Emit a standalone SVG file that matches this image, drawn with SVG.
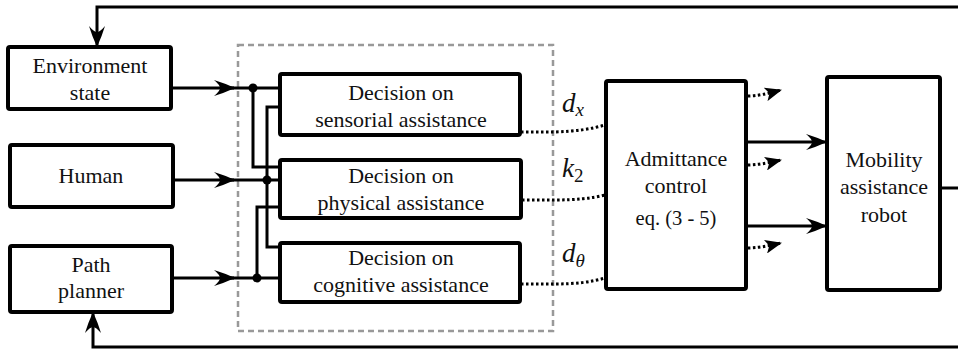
<svg xmlns="http://www.w3.org/2000/svg" width="958" height="353" viewBox="0 0 958 353">
<style>
.box{fill:#fff;stroke:#000;stroke-width:4}
.ln{fill:none;stroke:#000;stroke-width:3}
.dot{fill:none;stroke:#000;stroke-width:3;stroke-dasharray:2.5 2.5}
.dash{fill:none;stroke:#999;stroke-width:2.5;stroke-dasharray:6 4}
text{font-family:"Liberation Serif","Times New Roman",serif;font-size:22px;fill:#111}
.t{text-anchor:middle}
.m{font-style:italic;font-size:27px}
</style>
<defs>
<marker id="barb" markerUnits="userSpaceOnUse" markerWidth="22" markerHeight="18" viewBox="0 0 22 18" refX="20" refY="9" orient="auto">
<path d="M21,9 Q10,4 0,1 Q6,6 6,9 Q6,12 0,17 Q10,14 21,9 Z" fill="#000"/>
</marker>
<marker id="tri" markerUnits="userSpaceOnUse" markerWidth="18" markerHeight="14" viewBox="0 0 18 14" refX="16" refY="7" orient="auto">
<path d="M17,7 L0,0 L4,7 L0,14 Z" fill="#000"/>
</marker>
</defs>
<rect x="0" y="0" width="958" height="353" fill="#fff"/>

<rect class="dash" x="238" y="45" width="315" height="286"/>

<g id="connectors">
<path class="ln" d="M958,7 H97 V46" marker-end="url(#barb)"/>
<path class="ln" d="M958,347 H93 V313" marker-end="url(#barb)"/>
<path class="ln" d="M171,88 H234" marker-end="url(#barb)"/>
<path class="ln" d="M230,88 H280"/>
<path class="ln" d="M173,180 H234" marker-end="url(#barb)"/>
<path class="ln" d="M230,180 H280"/>
<path class="ln" d="M172,278 H234" marker-end="url(#barb)"/>
<path class="ln" d="M230,278 H280"/>
<path class="ln" d="M253,88 V167 H280"/>
<path class="ln" d="M280,107 H267 V247 H280"/>
<path class="ln" d="M257,278 V207 H280"/>
<circle cx="253" cy="88" r="4.5" fill="#000"/>
<circle cx="267" cy="180" r="4.5" fill="#000"/>
<circle cx="257" cy="278" r="4.5" fill="#000"/>
<path class="dot" d="M521,132 L555,132 Q585,131 605,125"/>
<path class="dot" d="M522,200 L555,200 Q585,200 605,195"/>
<path class="dot" d="M521,284 L555,284 Q585,284 605,278"/>
<path class="dot" d="M748,96 Q760,96 781,90" marker-end="url(#tri)"/>
<path class="dot" d="M748,165 Q760,165 781,160" marker-end="url(#tri)"/>
<path class="dot" d="M748,248 Q760,248 781,243" marker-end="url(#tri)"/>
<path class="ln" d="M746,142 H826" marker-end="url(#barb)"/>
<path class="ln" d="M746,226 H826" marker-end="url(#barb)"/>
<path class="ln" d="M940,188 H958"/>
</g>

<g id="env">
<rect class="box" x="8" y="47" width="163" height="62" rx="2"/>
<text class="t" x="90" y="73">Environment</text>
<text class="t" x="90" y="100">state</text>
</g>
<g id="human">
<rect class="box" x="10" y="145" width="163" height="62" rx="2"/>
<text class="t" x="91" y="183">Human</text>
</g>
<g id="path">
<rect class="box" x="10" y="246" width="162" height="66" rx="2"/>
<text class="t" x="91" y="272">Path</text>
<text class="t" x="91" y="298">planner</text>
</g>
<g id="sensorial">
<rect class="box" x="280" y="74" width="240" height="61" rx="2"/>
<text class="t" x="401" y="100">Decision on</text>
<text class="t" x="401" y="127">sensorial assistance</text>
</g>
<g id="physical">
<rect class="box" x="280" y="160" width="241" height="58" rx="2"/>
<text class="t" x="401" y="183">Decision on</text>
<text class="t" x="401" y="210">physical assistance</text>
</g>
<g id="cognitive">
<rect class="box" x="280" y="243" width="240" height="59" rx="2"/>
<text class="t" x="401" y="265">Decision on</text>
<text class="t" x="401" y="292">cognitive assistance</text>
</g>
<g id="admittance">
<rect class="box" x="606" y="81" width="140" height="208" rx="2"/>
<text class="t" x="676" y="166">Admittance</text>
<text class="t" x="676" y="193">control</text>
<text class="t" x="676" y="225" style="font-size:20.5px">eq. (3 - 5)</text>
</g>
<g id="robot">
<rect class="box" x="827" y="77" width="113" height="213" rx="2"/>
<text class="t" x="884" y="167">Mobility</text>
<text class="t" x="884" y="194">assistance</text>
<text class="t" x="884" y="222">robot</text>
</g>
<g id="labels">
<text class="m" x="562" y="112">d<tspan font-size="19" dy="4">x</tspan></text>
<text class="m" x="562" y="177">k<tspan font-size="19" font-style="normal" dy="5">2</tspan></text>
<text class="m" x="562" y="262">d<tspan font-size="19" dy="5">θ</tspan></text>
</g>
</svg>
